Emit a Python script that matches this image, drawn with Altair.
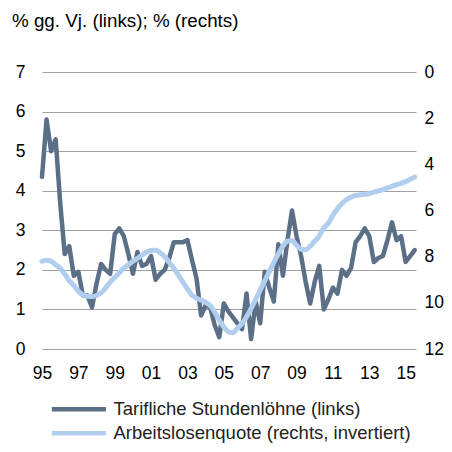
import altair as alt
import pandas as pd

# Tarifliche Stundenlöhne, % gg. Vj. (quarterly, 1995Q1 - 2015Q3)
wage = [4.35, 5.8, 5.0, 5.3, 3.7, 2.4, 2.6, 1.85, 1.95, 1.35, 1.35, 1.05,
        1.65, 2.15, 2.0, 1.9, 2.9, 3.05, 2.85, 2.4, 1.9, 2.45, 2.1, 2.15,
        2.35, 1.75, 1.9, 2.0, 2.3, 2.7, 2.7, 2.7, 2.75, 2.25, 1.78, 0.85,
        1.1, 1.05, 0.6, 0.3, 1.15, 0.95, 0.8, 0.65, 0.5, 1.4, 0.25, 1.2,
        0.65, 1.95, 1.55, 1.2, 2.65, 1.85, 2.75, 3.5, 2.85, 2.35, 1.7, 1.15,
        1.7, 2.1, 1.0, 1.25, 1.55, 1.4, 2.0, 1.85, 2.05, 2.7, 2.85, 3.05,
        2.85, 2.2, 2.3, 2.35, 2.75, 3.2, 2.75, 2.85, 2.2, 2.35, 2.5]

# Arbeitslosenquote, % (quarterly, plotted inverted on the right axis)
unemp = [8.2, 8.15, 8.2, 8.35, 8.5, 8.75, 9.05, 9.25, 9.5, 9.65, 9.72, 9.73,
         9.68, 9.57, 9.35, 9.1, 8.9, 8.7, 8.5, 8.35, 8.2, 8.07, 7.93, 7.8,
         7.73, 7.72, 7.83, 8.0, 8.25, 8.5, 8.8, 9.1, 9.4, 9.67, 9.8, 9.88,
         9.98, 10.12, 10.4, 10.75, 11.05, 11.25, 11.3, 11.1, 10.9, 10.6, 10.25, 9.85,
         9.45, 9.05, 8.65, 8.25, 7.88, 7.55, 7.33, 7.3, 7.5, 7.68, 7.7, 7.55,
         7.33, 7.1, 6.75, 6.55, 6.2, 5.93, 5.7, 5.52, 5.42, 5.35, 5.32, 5.3,
         5.27, 5.2, 5.15, 5.1, 5.02, 4.95, 4.88, 4.82, 4.75, 4.65, 4.55]

quarters = [1995 + i / 4 for i in range(len(wage))]
x_ticks = list(range(1995, 2016, 2))
left_ticks = list(range(0, 8))
right_ticks = list(range(0, 13, 2))

series_names = ["Tarifliche Stundenlöhne (links)", "Arbeitslosenquote (rechts, invertiert)"]
colors = ["#5B7087", "#B1CEEE"]

df_w = pd.DataFrame({"t": quarters, "v": wage, "s": series_names[0]})
df_u = pd.DataFrame({"t": quarters, "v": unemp, "s": series_names[1]})

FONT = "Liberation Sans"

# legend symbol: a long horizontal stroke drawn from a small nominal symbol
color = alt.Color(
    "s:N",
    scale=alt.Scale(domain=series_names, range=colors),
    legend=alt.Legend(
        title=None, orient="none", legendX=6, legendY=328,
        symbolType="M-1,0H9", symbolSize=117, symbolStrokeWidth=4.5,
        symbolFillColor="transparent",
        labelFontSize=18.5, labelFont=FONT, labelColor="#222222",
        labelOffset=47, rowPadding=5, labelLimit=400,
    ),
)

x = alt.X(
    "t:Q",
    scale=alt.Scale(domain=[1995, 2015.57], nice=False, zero=False),
    axis=alt.Axis(values=x_ticks, labelExpr="substring(toString(datum.value), 2, 4)",
                  grid=False, domain=False, ticks=False, labelPadding=15,
                  labelFlush=False, title=None),
)

left = alt.Chart(df_w).mark_line(strokeWidth=4.5, strokeJoin="round", strokeCap="round").encode(
    x=x,
    y=alt.Y("v:Q", scale=alt.Scale(domain=[0, 7], nice=False),
            axis=alt.Axis(orient="left", values=left_ticks, grid=True, gridColor="#A0A0A0",
                          gridWidth=1.2, domain=False, ticks=False, labelPadding=17, title=None)),
    color=color,
)

right = alt.Chart(df_u).mark_line(strokeWidth=5, interpolate="monotone", strokeCap="round").encode(
    x=x,
    y=alt.Y("v:Q", scale=alt.Scale(domain=[0, 12], reverse=True, nice=False),
            axis=alt.Axis(orient="right", values=right_ticks, grid=False, domain=False,
                          ticks=False, labelPadding=8, title=None)),
    color=color,
)

chart = alt.layer(left, right).resolve_scale(y="independent").properties(
    width=374, height=277,
    autosize=alt.AutoSizeParams(type="none"),
    padding={"left": 34, "top": 64, "right": 28, "bottom": 95},
    title=alt.TitleParams(text="% gg. Vj. (links); % (rechts)", anchor="start", frame="group",
                          dx=-30, offset=32, fontSize=18.8, font=FONT, fontWeight="normal",
                          color="#000000"),
).configure_view(stroke=None).configure_axis(
    labelFont=FONT, labelFontSize=17.5, labelColor="#000000"
)

chart.save("out.html", embed_options={"renderer": "svg", "actions": False})
